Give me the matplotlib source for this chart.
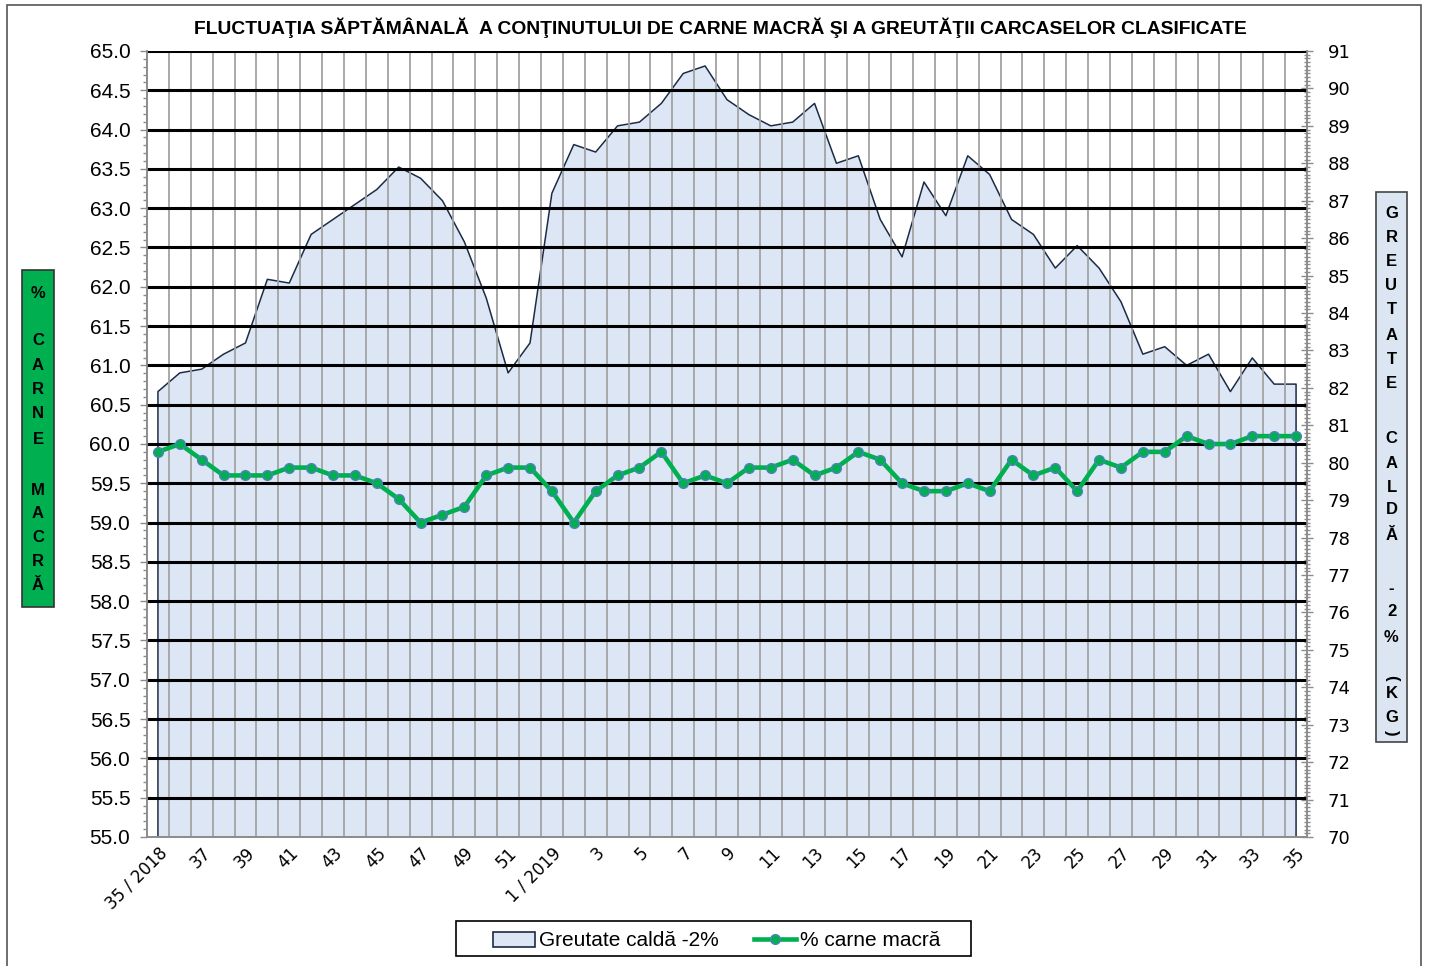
import numpy as np
import matplotlib.pyplot as plt
from matplotlib.patches import Patch, Rectangle
from matplotlib.lines import Line2D
from matplotlib.ticker import MultipleLocator, FormatStrFormatter

# Weeks 35/2018 .. 35/2019
WEEKS = list(range(35, 53)) + list(range(1, 36))

# % carne macra (left axis)
CARNE = [59.9, 60.0, 59.8, 59.6, 59.6, 59.6, 59.7, 59.7, 59.6, 59.6,
         59.5, 59.3, 59.0, 59.1, 59.2, 59.6, 59.7, 59.7, 59.4, 59.0,
         59.4, 59.6, 59.7, 59.9, 59.5, 59.6, 59.5, 59.7, 59.7, 59.8,
         59.6, 59.7, 59.9, 59.8, 59.5, 59.4, 59.4, 59.5, 59.4, 59.8,
         59.6, 59.7, 59.4, 59.8, 59.7, 59.9, 59.9, 60.1, 60.0, 60.0,
         60.1, 60.1, 60.1]

# Greutate calda -2% in kg (right axis)
GREUTATE = [81.9, 82.4, 82.5, 82.9, 83.2, 84.9, 84.8, 86.1, 86.5, 86.9,
            87.3, 87.9, 87.6, 87.0, 85.9, 84.4, 82.4, 83.2, 87.2, 88.5,
            88.3, 89.0, 89.1, 89.6, 90.4, 90.6, 89.7, 89.3, 89.0, 89.1,
            89.6, 88.0, 88.2, 86.5, 85.5, 87.5, 86.6, 88.2, 87.7, 86.5,
            86.1, 85.2, 85.8, 85.2, 84.3, 82.9, 83.1, 82.6, 82.9, 81.9,
            82.8, 82.1, 82.1]

TITLE = ("FLUCTUAŢIA SĂPTĂMÂNALĂ  A CONŢINUTULUI DE CARNE MACRĂ "
         "ŞI A GREUTĂŢII CARCASELOR CLASIFICATE")
# vertical axis titles, one character per row (pixel row of each char)
LEFT_CHARS = list("%CARNEMACRĂ")
LEFT_ROWS = [293, 340, 366, 390, 414, 439, 490, 514, 538, 562, 585]
RIGHT_CHARS = list("GREUTATECALDĂ-2%(KG)")
RIGHT_ROWS = [213, 237, 261, 285, 310, 335, 359, 383, 438, 463, 487, 510, 535,
              588, 612, 637, 678, 694, 717, 733]

GREEN = "#00B050"
AREA = "#DDE6F4"
NAVY = "#1C2B45"
GRAY = "#8C8C8C"
ARIAL = "Liberation Sans"

W, H = 1429, 966
fig = plt.figure(figsize=(W / 100, H / 100), dpi=100)
ax = fig.add_axes([147 / W, 1 - 837 / H, 1160 / W, 786 / H])
ax2 = ax.twinx()
ax.set_zorder(ax2.get_zorder() + 1)
ax.patch.set_visible(False)

x = np.arange(len(WEEKS))
n = len(WEEKS)

# area series (right axis)
ax2.fill_between(x, 70, GREUTATE, color=AREA, lw=0, zorder=1)
ax2.plot(np.r_[x[0], x, x[-1]], np.r_[70, GREUTATE, 70], color=NAVY, lw=1.1, zorder=2)
ax2.set_ylim(70, 91)
ax2.set_xlim(-0.5, n - 0.5)

# grid on the left axis, above the area
ax.vlines(np.arange(0.5, n - 0.5, 1), 55, 65, color="#A3A3A3", lw=1.3, zorder=1)
ax.hlines(np.arange(55.5, 65.01, 0.5), -0.5, n - 0.5, color="black", lw=2.2, zorder=2)

# green line
ax.plot(x, CARNE, color=GREEN, lw=3.3, marker="o", ms=7, mfc=GREEN, mec="#4F81BD",
        mew=1, zorder=5)

ax.set_xlim(-0.5, n - 0.5)
ax.set_ylim(55, 65)

for s in ["left", "right", "bottom"]:
    ax.spines[s].set_color(GRAY)
    ax2.spines[s].set_color(GRAY)
    ax.spines[s].set_linewidth(1.2)
    ax2.spines[s].set_linewidth(1.2)
ax.spines["top"].set_visible(False)
ax2.spines["top"].set_visible(False)

# left axis
ax.yaxis.set_major_locator(MultipleLocator(0.5))
ax.yaxis.set_minor_locator(MultipleLocator(0.1))
ax.yaxis.set_major_formatter(FormatStrFormatter("%.1f"))
ax.tick_params(axis="y", which="major", length=5, width=1, color=GRAY, pad=7,
               labelsize=15)
ax.tick_params(axis="y", which="minor", length=3, width=1, color=GRAY)
for t in ax.get_yticklabels():
    t.set_fontfamily(ARIAL)

# right axis
ax2.yaxis.set_major_locator(MultipleLocator(1))
ax2.yaxis.set_minor_locator(MultipleLocator(0.1))
ax2.tick_params(axis="y", which="major", direction="inout", length=8, width=1,
                color=GRAY, pad=11, labelsize=13)
ax2.tick_params(axis="y", which="minor", direction="inout", length=5, width=1, color=GRAY)

# x axis: ticks on boundaries, labels every second week
ax.set_xticks(np.arange(-0.5, n, 1))
ax.tick_params(axis="x", which="major", length=3.5, width=1, color=GRAY, labelbottom=False)
labels = []
for i, w in enumerate(WEEKS):
    if i == 0:
        labels.append(f"{w} / 2018")
    elif w == 1:
        labels.append(f"{w} / 2019")
    else:
        labels.append(str(w))
ax.set_xticks(x[::2], labels[::2], minor=True)
ax.tick_params(axis="x", which="minor", length=0, pad=5, labelsize=12)
for t in ax.get_xticklabels(minor=True):
    t.set_rotation(45)
    t.set_ha("right")
    t.set_va("top")
    t.set_rotation_mode("anchor")
ax2.set_xticks([])

fig.text(720 / W, 1 - 28 / H, TITLE, ha="center", va="center", fontsize=13.9,
         fontweight="bold", family=ARIAL)


def box(x0, y0, x1, y1, fc, ec):
    fig.add_artist(Rectangle((x0 / W, 1 - y1 / H), (x1 - x0) / W, (y1 - y0) / H,
                             transform=fig.transFigure, fc=fc, ec=ec, lw=1.2))


def stacked(xc, chars, rows):
    for ch, y in zip(chars, rows):
        rot = -90 if ch in "()" else 0
        fig.text(xc / W, 1 - y / H, ch, ha="center", va="center", fontsize=12,
                 fontweight="bold", family=ARIAL, rotation=rot)


# outer frame
fig.add_artist(Rectangle((7 / W, -0.01), 1414 / W, 1.01 - 5 / H, transform=fig.transFigure,
                         fc="none", ec="#555555", lw=1.2))

box(22, 270, 54, 607, GREEN, "#333333")
stacked(38, LEFT_CHARS, LEFT_ROWS)
box(1376, 192, 1407, 742, "#DCE6F2", "#444444")
stacked(1391.5, RIGHT_CHARS, RIGHT_ROWS)

# legend
box(456, 921, 971, 956, "white", "black")
handles = [Patch(fc=AREA, ec=NAVY, lw=1.2),
           Line2D([], [], color=GREEN, lw=3.3, marker="o", ms=7, mfc=GREEN, mec="#4F81BD")]
fig.legend(handles, ["Greutate caldă -2%", "% carne macră"], loc="center",
           bbox_to_anchor=(717 / W, 1 - 941 / H), ncol=2, frameon=False,
           prop={"family": ARIAL, "size": 15}, handlelength=2.0, handletextpad=0.2,
           columnspacing=1.7)

fig.savefig("out.png", dpi=100)
